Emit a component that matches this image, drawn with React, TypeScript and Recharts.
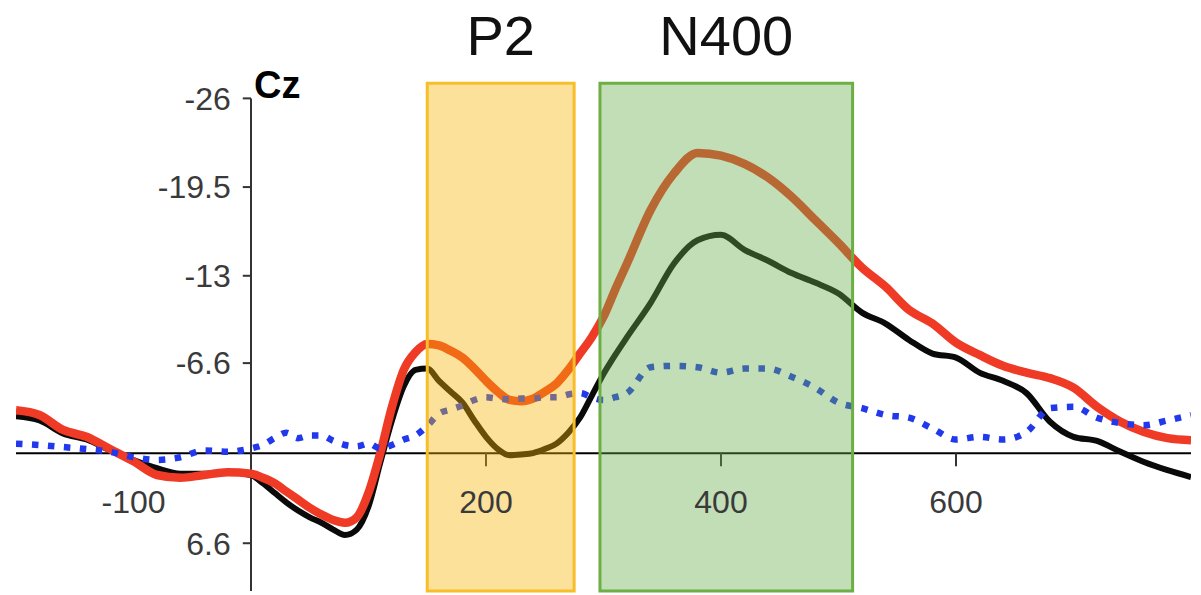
import React from 'react';
import { LineChart, Line, XAxis, YAxis, ReferenceArea, ReferenceLine } from 'recharts';

const times = [
  -200, -180, -160, -140, -120, -100, -80, -60, -40, -20, 0,
  10, 20, 30, 40, 50, 60, 70, 80, 90, 100, 110, 120, 130, 140, 150, 160, 170, 180, 190, 200,
  210, 220, 230, 240, 250, 260, 270, 280, 290, 300, 310, 320,
  340, 360, 380, 400, 420, 440, 460, 480, 500, 520, 540, 560, 580, 600, 620, 640, 660, 680,
  700, 720, 740, 760, 780, 800,
];

const redSeries = [
  -3.15, -2.8, -1.7, -1.2, -0.3, 0.6, 1.6, 1.8, 1.6, 1.4, 1.5,
  1.8, 2.2, 2.8, 3.4, 4.0, 4.5, 4.9, 5.1, 4.7, 2.9, 0.0, -3.4, -6.1, -7.4, -8.0, -7.9, -7.5, -7.0, -6.2, -5.3,
  -4.5, -3.9, -3.8, -4.0, -4.5, -5.1, -6.1, -7.3, -8.5, -10.0, -12.0, -13.9,
  -17.8, -20.5, -22.0, -21.8, -21.2, -20.2, -18.8, -17.1, -15.4, -13.6, -12.2, -10.5, -9.5, -8.1, -7.2, -6.4, -5.9, -5.5,
  -4.8, -3.4, -2.3, -1.55, -1.1, -0.95,
];

const blackSeries = [
  -2.7, -2.4, -1.45, -1.0, -0.2, 0.5, 1.1, 1.5, 1.5, 1.4, 1.6,
  2.2, 2.9, 3.6, 4.2, 4.7, 5.1, 5.6, 6.0, 5.6, 3.9, 0.7, -2.4, -4.9, -6.1, -6.2, -5.3, -4.5, -3.7, -2.4, -1.2,
  -0.3, 0.15, 0.1, 0.0, -0.3, -0.7, -1.5, -2.6, -4.2, -5.8, -7.2, -8.5,
  -11.0, -13.9, -15.6, -16.0, -14.9, -14.1, -13.2, -12.5, -11.7, -10.3, -9.5, -8.3, -7.3, -7.0, -5.9, -5.3, -4.4, -2.3,
  -1.2, -0.9, -0.1, 0.65, 1.25, 1.75,
];

const blueSeries = [
  -0.7, -0.6, -0.45, -0.3, -0.1, 0.3, 0.5, 0.3, -0.2, -0.1, -0.35,
  -0.6, -1.1, -1.5, -1.1, -1.3, -1.3, -0.9, -0.6, -0.5, -0.7, -0.35, -0.6, -1.0, -1.3, -2.0, -2.9, -3.2, -3.5, -3.9, -4.1,
  -4.0, -3.95, -4.0, -4.0, -4.1, -4.1, -4.3, -4.4, -4.1, -3.9, -4.1, -4.4,
  -6.3, -6.4, -6.3, -5.9, -6.2, -6.2, -5.6, -4.8, -3.7, -3.3, -2.8, -2.6, -1.8, -1.0, -1.2, -1.0, -1.55, -3.3,
  -3.4, -2.6, -2.2, -2.05, -2.4, -2.8,
];

const yTicks = [-26, -19.5, -13, -6.6, 6.6];
const yTickLabels = ['-26', '-19.5', '-13', '-6.6', '6.6'];
const xTicks = [-100, 200, 400, 600];
const xTickLabels = ['-100', '200', '400', '600'];
const xTickVisible = [false, true, true, true];

const windowNames = ['P2', 'N400'];
const windowStarts = [150, 297];
const windowEnds = [275, 512];
const windowFills = ['#F5B402', '#66AC48'];
const windowStrokes = ['#F7BE2A', '#6DAE45'];

const channelLabel = 'Cz';

const data = times.map((t, i) => ({
  t,
  red: redSeries[i],
  black: blackSeries[i],
  blue: blueSeries[i],
}));

const FONT = '"Liberation Sans", Arial, Helvetica, sans-serif';

const CzLabel = (props: any) => {
  const vb = props.viewBox || {};
  return (
    <text x={vb.x + 3} y={vb.y} fontFamily={FONT} fontWeight="bold" fontSize={38} fill="#000">
      {channelLabel}
    </text>
  );
};

export default function App() {
  return (
    <div style={{ position: 'absolute', left: 0, top: 0, background: '#fff' }}>
      <LineChart
        width={1201}
        height={595}
        data={data}
        margin={{ top: 82, right: 10, bottom: 4, left: 16 }}
      >
        <XAxis dataKey="t" type="number" domain={[-200, 800]} hide allowDataOverflow />
        <YAxis type="number" domain={[-27.2, 10.1]} reversed hide allowDataOverflow />

        <ReferenceLine y={0} stroke="#000" strokeWidth={2} zIndex={0} />
        <ReferenceLine
          segment={[{ x: 0, y: -26 }, { x: 0, y: 10.1 }]}
          stroke="#333"
          strokeWidth={2}
          zIndex={0}
          label={CzLabel}
        />
        {yTicks.map((v, i) => (
          <ReferenceLine
            key={'yt' + i}
            segment={[{ x: -7, y: v }, { x: 0, y: v }]}
            stroke="#333"
            strokeWidth={2}
            zIndex={0}
            label={{
              value: yTickLabels[i],
              position: 'left',
              offset: 12,
              fontSize: 32,
              fill: '#3a3a3a',
              fontFamily: FONT,
            }}
          />
        ))}
        {xTicks.map((v, i) => (
          <ReferenceLine
            key={'xt' + i}
            segment={[{ x: v, y: 0 }, { x: v, y: 0.95 }]}
            stroke={xTickVisible[i] ? '#333' : 'none'}
            strokeWidth={2}
            zIndex={0}
            label={{
              value: xTickLabels[i],
              position: 'bottom',
              offset: 24,
              fontSize: 32,
              fill: '#3a3a3a',
              fontFamily: FONT,
            }}
          />
        ))}

        <Line
          dataKey="black"
          type="monotone"
          stroke="#0a0a0a"
          strokeWidth={6}
          dot={false}
          activeDot={false}
          isAnimationActive={false}
        />
        <Line
          dataKey="red"
          type="monotone"
          stroke="#EF3B26"
          strokeWidth={8.5}
          dot={false}
          activeDot={false}
          isAnimationActive={false}
        />
        <Line
          dataKey="blue"
          type="monotone"
          stroke="#2238EC"
          strokeWidth={6.5}
          strokeDasharray="6.5 9.5"
          dot={false}
          activeDot={false}
          isAnimationActive={false}
        />

        {windowNames.map((name, i) => (
          <ReferenceArea
            key={'w' + i}
            x1={windowStarts[i]}
            x2={windowEnds[i]}
            y1={-27.1}
            y2={10.1}
            fill={windowFills[i]}
            fillOpacity={0.4}
            stroke={windowStrokes[i]}
            strokeWidth={3}
            zIndex={1000}
            label={{
              value: name,
              position: 'top',
              offset: 28,
              fontSize: 56,
              fill: '#111',
              fontFamily: FONT,
            }}
          />
        ))}
      </LineChart>
    </div>
  );
}
